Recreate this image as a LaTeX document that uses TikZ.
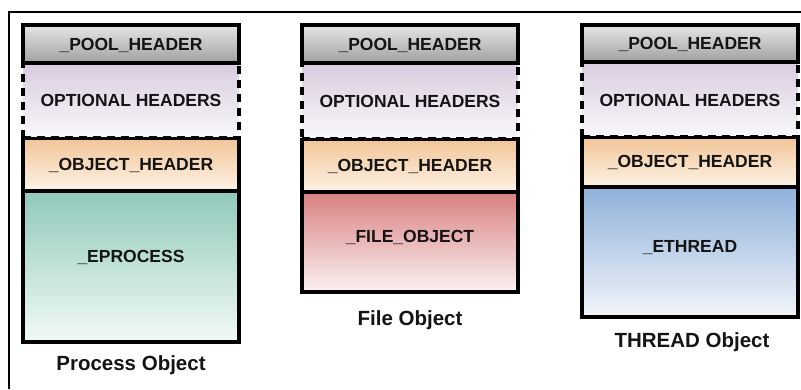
\documentclass[tikz,border=0pt]{standalone}
\usepackage{fontspec}
\setmainfont{Liberation Sans}
\begin{document}
\begin{tikzpicture}[x=1pt,y=-1pt,
  blk/.style={draw=black,line width=3.3pt,minimum width=216pt,inner sep=0pt,outer sep=0pt},
  poolbox/.style={blk,top color=poolTop,bottom color=poolBot},
  optbox/.style={draw=black,line width=3.6pt,dash pattern=on 8pt off 6pt,minimum width=216pt,inner sep=0pt,top color=optTop,bottom color=optBot},
  objbox/.style={blk,top color=objTop,bottom color=objBot},
  boxtxt/.style={font=\fontsize{17.5}{20}\selectfont\bfseries,text=txt},
  captxt/.style={font=\fontsize{20.5}{24}\selectfont\bfseries,text=txt}
]
\definecolor{poolTop}{HTML}{E6E6E6}
\definecolor{poolBot}{HTML}{A0A0A0}
\definecolor{optTop}{HTML}{D9CCE0}
\definecolor{optBot}{HTML}{F9F8FA}
\definecolor{objTop}{HTML}{F2C597}
\definecolor{objBot}{HTML}{FDF3E8}
\definecolor{procTop}{HTML}{8FC9BA}
\definecolor{procBot}{HTML}{F3FAF6}
\definecolor{fileTop}{HTML}{D98080}
\definecolor{fileBot}{HTML}{FBF2F2}
\definecolor{thrTop}{HTML}{8FB1DA}
\definecolor{thrBot}{HTML}{F2F5F9}
\definecolor{txt}{HTML}{141414}
\useasboundingbox (0,0) rectangle (801,389);
% outer frame (top and left edges)
\coordinate (fTL) at (9,12);
\coordinate (fTR) at (801,12);
\coordinate (fBL) at (9,389);
\draw[line width=2.2pt] (fTR) -- (fTL) -- (fBL);

% ---------- Process Object ----------
\node[optbox,minimum height=75pt] (p1opt) at (131,100.5) {};
\node[poolbox,minimum height=38pt] (p1pool) at (131,44) {};
\node[objbox,minimum height=53pt] (p1obj) at (131,165) {};
\node[blk,top color=procTop,bottom color=procBot,minimum height=151pt] (p1body) at (131,266.5) {};
\node[boxtxt] (p1poolt) at (131,45) {\_POOL\_HEADER};
\node[boxtxt] (p1optt) at (131,100.5) {OPTIONAL HEADERS};
\node[boxtxt] (p1objt) at (131,165) {\_OBJECT\_HEADER};
\node[boxtxt] (p1bodyt) at (131,257) {\_EPROCESS};
\node[captxt] (p1cap) at (131,365) {Process Object};

% ---------- File Object ----------
\node[optbox,minimum height=76pt] (p2opt) at (410,101) {};
\node[poolbox,minimum height=38pt] (p2pool) at (410,44) {};
\node[objbox,minimum height=53pt] (p2obj) at (410,166) {};
\node[blk,top color=fileTop,bottom color=fileBot,minimum height=100pt] (p2body) at (410,242) {};
\node[boxtxt] (p2poolt) at (410,45) {\_POOL\_HEADER};
\node[boxtxt] (p2optt) at (410,101) {OPTIONAL HEADERS};
\node[boxtxt] (p2objt) at (410,166) {\_OBJECT\_HEADER};
\node[boxtxt] (p2bodyt) at (410,237) {\_FILE\_OBJECT};
\node[captxt] (p2cap) at (410,320) {File Object};

% ---------- THREAD Object ----------
\node[optbox,minimum height=75pt] (p3opt) at (690,99.5) {};
\node[poolbox,minimum height=37pt] (p3pool) at (690,43.5) {};
\node[objbox,minimum height=50pt] (p3obj) at (690,162.5) {};
\node[blk,top color=thrTop,bottom color=thrBot,minimum height=130pt] (p3body) at (690,252) {};
\node[boxtxt] (p3poolt) at (690,44) {\_POOL\_HEADER};
\node[boxtxt] (p3optt) at (690,100) {OPTIONAL HEADERS};
\node[boxtxt] (p3objt) at (690,162) {\_OBJECT\_HEADER};
\node[boxtxt] (p3bodyt) at (690,248) {\_ETHREAD};
\node[captxt] (p3cap) at (692,342) {THREAD Object};
\end{tikzpicture}
\end{document}
